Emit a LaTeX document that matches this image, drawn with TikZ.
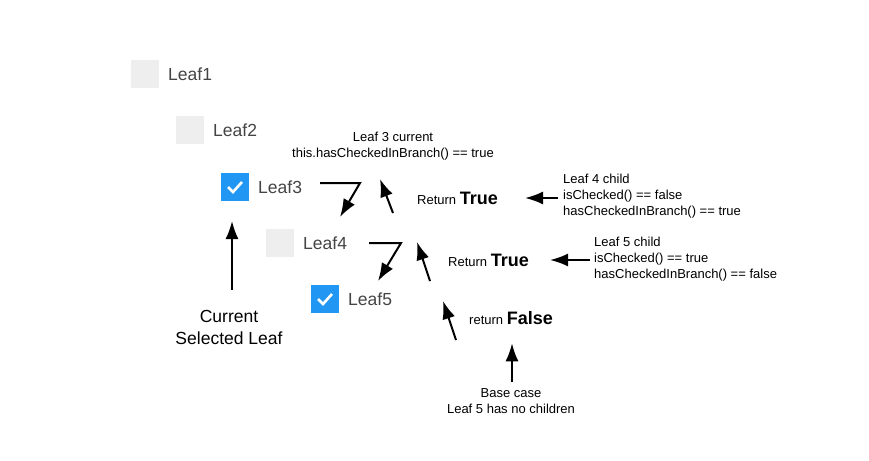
\documentclass[tikz,border=0pt]{standalone}
\usepackage{fontspec}
\setmainfont{Liberation Sans}
\usepackage{xcolor}
\usetikzlibrary{arrows.meta, positioning, calc}
\definecolor{boxgray}{HTML}{EEEEEE}
\definecolor{boxblue}{HTML}{2196F3}
\definecolor{leafgray}{HTML}{444444}

\begin{document}
\begin{tikzpicture}[x=1pt,y=-1pt,
  leafbox/.style={minimum size=28pt,inner sep=0pt,fill=boxgray},
  leafon/.style={minimum size=28pt,inner sep=0pt,fill=boxblue},
  leaftxt/.style={anchor=west,inner sep=0pt,text=leafgray,font=\fontsize{17.5}{20}\selectfont},
  note/.style={align=center,inner sep=0pt,font=\fontsize{13}{16}\selectfont},
  notel/.style={align=left,anchor=west,inner sep=0pt,font=\fontsize{13}{16}\selectfont},
  ret/.style={anchor=west,inner sep=0pt,font=\fontsize{13}{16}\selectfont},
  arr/.style={line width=2pt,-{Latex[length=18pt,width=13pt]}},
  check/.style={white,line width=2.6pt}]
\useasboundingbox (0,0) rectangle (869,460);
% the tree
\node[leafbox] (l1) at (145,74) {};
\node[leaftxt] (t1) at (168,74) {Leaf1};
\node[leafbox] (l2) at (190,130) {};
\node[leaftxt] (t2) at (213,130) {Leaf2};
\node[leafon] (l3) at (235,187) {};
\node[leaftxt] (t3) at (258,187) {Leaf3};
\node[leafbox] (l4) at (280,243) {};
\node[leaftxt] (t4) at (303,243) {Leaf4};
\node[leafon] (l5) at (325,299) {};
\node[leaftxt] (t5) at (348,299) {Leaf5};
\draw[check,shift={(l3.center)}] (-7,0) -- (-2,5) -- (7,-5);
\draw[check,shift={(l5.center)}] (-7,0) -- (-2,5) -- (7,-5);

% current leaf
\node[align=center,inner sep=0pt,font=\fontsize{17.5}{22}\selectfont] (cur) at (229,327) {Current\\Selected Leaf};
\coordinate (curtip) at (232,221);
\draw[arr] ($(cur.north)+(3,-20)$) -- (curtip);

% going down
\coordinate (d1a) at (320,183);
\coordinate (d1b) at (360,183);
\coordinate (d1c) at (340,217);
\draw[arr] (d1a) -- (d1b) -- (d1c);
\coordinate (d2a) at (369,243);
\coordinate (d2b) at (401,243);
\coordinate (d2c) at (378,281);
\draw[arr] (d2a) -- (d2b) -- (d2c);

% coming back up
\node[ret] (r3) at (417,198) {Return \textbf{\fontsize{18}{20}\selectfont True}};
\node[ret] (r4) at (448,260) {Return \textbf{\fontsize{18}{20}\selectfont True}};
\node[ret] (r5) at (469,318) {return \textbf{\fontsize{18}{20}\selectfont False}};
\coordinate (u1a) at (393,213);
\coordinate (u1b) at (380,179);
\coordinate (u2a) at (430,281);
\coordinate (u2b) at (417,242);
\coordinate (u3a) at (456,340);
\coordinate (u3b) at (443,301);
\draw[arr] (u1a) -- (u1b);
\draw[arr] (u2a) -- (u2b);
\draw[arr] (u3a) -- (u3b);

% notes
\node[note] (n3) at (393,146) {Leaf 3 current\\this.hasCheckedInBranch() == true};
\node[notel] (n4) at (563,196) {Leaf 4 child\\isChecked() == false\\hasCheckedInBranch() == true};
\node[notel] (n5) at (594,259) {Leaf 5 child\\isChecked() == true\\hasCheckedInBranch() == false};
\node[note] (nb) at (511,401) {Base case\\Leaf 5 has no children};
\draw[arr] ($(n4.west)+(-5,2)$) -- ($(n4.west)+(-38,2)$);
\draw[arr] ($(n5.west)+(-4,1)$) -- ($(n5.west)+(-44,1)$);
\draw[arr] ($(nb.north)+(1,-6)$) -- ($(nb.north)+(1,-45)$);
\end{tikzpicture}
\end{document}
